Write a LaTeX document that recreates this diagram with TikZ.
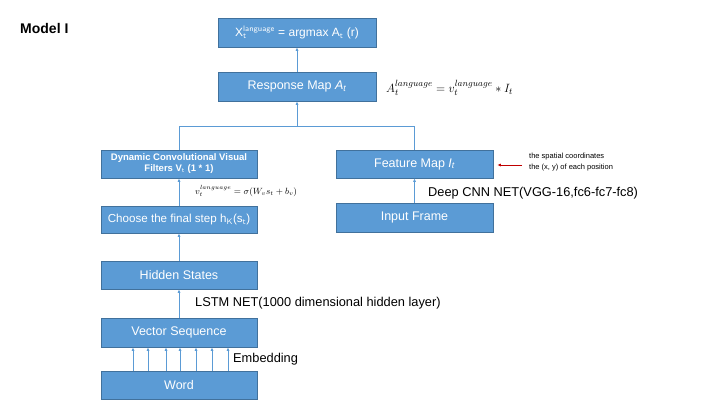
\documentclass[tikz,border=0pt]{standalone}
\usepackage{fontspec}
\setmainfont{Liberation Sans}
\usetikzlibrary{arrows.meta}
\definecolor{boxblue}{HTML}{5B9BD5}
\definecolor{boxline}{HTML}{41719C}
\definecolor{darkred}{HTML}{C00000}
\tikzset{
  blk/.style={fill=boxblue, draw=boxline, line width=0.6pt, text=white, inner sep=0pt,
    minimum width=156pt, minimum height=28pt, font=\fontsize{12.5}{14}\selectfont, align=center},
  conn/.style={draw=boxblue, line width=0.8pt},
  arr/.style={conn, -{Latex[length=3.5pt,width=3pt]}},
  lbl/.style={inner sep=0pt, font=\fontsize{12.8}{15}\selectfont, anchor=west},
  note/.style={inner sep=0pt, font=\fontsize{7.5}{11}\selectfont, anchor=west, align=left},
}
\begin{document}
\begin{tikzpicture}[x=1pt,y=-1pt]
\useasboundingbox (0,0) rectangle (720,405);
% title
\node[inner sep=0pt, anchor=west, font=\fontsize{14}{16}\selectfont\bfseries] (title) at (20,28) {Model I};
% boxes
\node[blk, minimum width=158pt, minimum height=29pt, font=\fontsize{12}{14}\selectfont] (top) at (297,32.5) {X$_{\mathsf{t}}^{\mathsf{language}}$ = argmax A$_{\mathsf{t}}$ (r)};
\node[blk, minimum width=158pt, minimum height=29pt] (resp) at (297,86.5) {Response Map \textit{A$_{\mathit{t}}$}};
\node[blk, font=\fontsize{9.5}{11}\selectfont\bfseries] (dyn) at (179,164) {Dynamic Convolutional Visual\\Filters V$_{\mathsf{t}}$ (1 * 1)};
\node[blk, minimum height=27pt, font=\fontsize{11.6}{14}\selectfont] (choose) at (179,219.5) {Choose the final step h$_{\mathsf{K}}$(s$_{\mathsf{t}}$)};
\node[blk, minimum width=157pt] (feat) at (414.5,164) {Feature Map \textit{I$_{\mathit{t}}$}};
\node[blk, minimum width=157pt, minimum height=29pt] (input) at (414.5,217.5) {Input Frame};
\node[blk] (hidden) at (179,275) {Hidden States};
\node[blk, minimum height=29pt] (vec) at (179,332.5) {Vector Sequence};
\node[blk] (word) at (179,385) {Word};
% formulas
\node[inner sep=0pt, anchor=west, font=\fontsize{12.5}{14}\selectfont] (fA) at (386,88)
  {$A_t^{language} = v_t^{language} * I_t$};
\node[inner sep=0pt, anchor=west, font=\fontsize{9}{10}\selectfont] (fv) at (195,191)
  {$v_t^{language} = \sigma(W_v s_t + b_v)$};
% labels
\node[lbl] (cnn) at (428,193) {Deep CNN NET(VGG-16,fc6-fc7-fc8)};
\node[lbl] (lstm) at (195,303) {LSTM NET(1000 dimensional hidden layer)};
\node[lbl] (emb) at (233,359) {Embedding};
\node[note] (spatial) at (529,162.5) {the spatial coordinates\\the (x, y) of each position};
% connectors
\coordinate (bus) at (0,126);
\draw[arr] (resp.north) -- (top.south);
\draw[conn] (dyn.north) -- (dyn.north |- bus) -- (feat.north |- bus) -- (feat.north);
\draw[arr] (resp.south |- bus) -- (resp.south);
\draw[arr] (choose.north) -- (dyn.south);
\draw[arr] (hidden.north) -- (choose.south);
\draw[arr] (vec.north) -- (hidden.south);
\draw[arr] (input.north) -- (feat.south);
\foreach \dx in {-46,-31,-13,1,17,33,49}{
  \draw[arr] ([xshift=\dx pt]word.north) -- ([xshift=\dx pt]vec.south);
}
\coordinate (rs) at (522,165);
\draw[draw=darkred, line width=0.8pt, -{Latex[length=3.5pt,width=3pt]}, shorten >=4pt] (rs) -- (feat.east |- rs);
\end{tikzpicture}
\end{document}
